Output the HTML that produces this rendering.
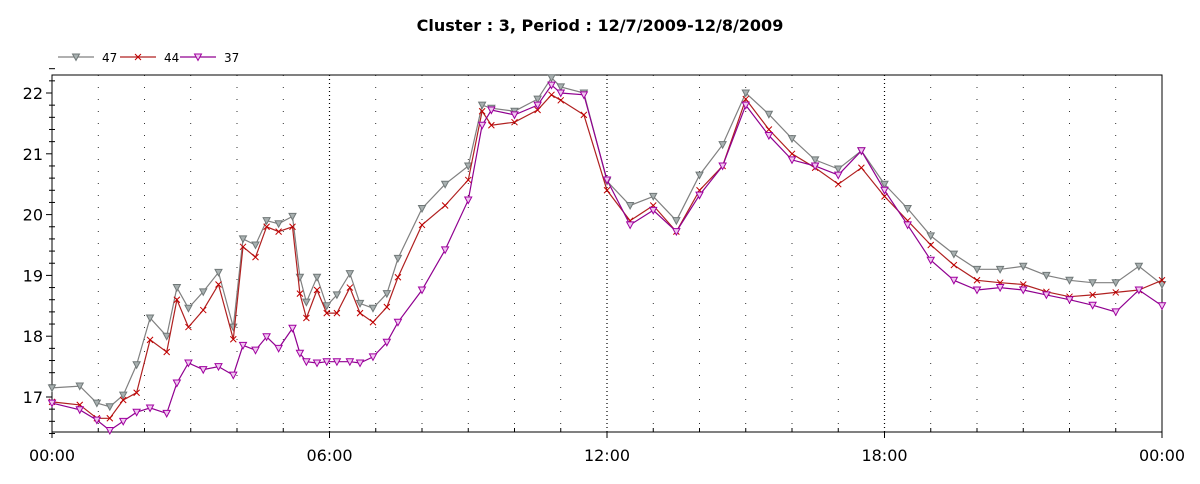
<!DOCTYPE html>
<html><head><meta charset="utf-8"><style>
body{margin:0;background:#fff;font-family:"DejaVu Sans",sans-serif}
svg text{font-family:"DejaVu Sans",sans-serif}
</style></head><body>
<svg id="chart" width="1200" height="480" xmlns="http://www.w3.org/2000/svg">
<text x="600" y="31" text-anchor="middle" font-size="16" font-weight="bold">Cluster : 3, Period : 12/7/2009-12/8/2009</text>
<g id="legend"></g>
<g id="grid"></g><g id="axes"></g><g id="series"></g>
</svg>
<script>
const times=[0,0.6,0.97,1.25,1.54,1.83,2.12,2.48,2.7,2.95,3.27,3.6,3.92,4.13,4.4,4.64,4.9,5.2,5.36,5.5,5.73,5.94,6.16,6.44,6.66,6.94,7.24,7.48,8,8.5,9,9.3,9.5,10,10.5,10.8,11,11.5,12,12.5,13,13.5,14,14.5,15,15.5,16,16.5,17,17.5,18,18.5,19,19.5,20,20.5,21,21.5,22,22.5,23,23.5,24];
const s47=[17.15,17.18,16.9,16.84,17.03,17.53,18.3,18.0,18.8,18.46,18.73,19.05,18.15,19.6,19.5,19.9,19.85,19.97,18.97,18.56,18.97,18.5,18.68,19.03,18.54,18.46,18.7,19.28,20.1,20.5,20.8,21.8,21.75,21.7,21.9,22.25,22.1,22.0,20.55,20.15,20.3,19.9,20.65,21.15,22.0,21.65,21.25,20.9,20.75,21.05,20.5,20.1,19.65,19.35,19.1,19.1,19.15,19.0,18.92,18.88,18.88,19.15,18.85];
const s44=[16.92,16.87,16.65,16.65,16.95,17.07,17.94,17.74,18.6,18.15,18.43,18.85,17.95,19.47,19.3,19.8,19.72,19.8,18.7,18.3,18.76,18.38,18.38,18.8,18.38,18.23,18.48,18.97,19.83,20.15,20.57,21.7,21.47,21.52,21.72,21.97,21.88,21.64,20.4,19.9,20.15,19.72,20.4,20.8,21.9,21.4,21.0,20.77,20.5,20.77,20.3,19.9,19.5,19.17,18.92,18.88,18.85,18.73,18.65,18.68,18.72,18.76,18.92];
const s37=[16.9,16.79,16.62,16.45,16.6,16.75,16.82,16.73,17.23,17.56,17.45,17.5,17.36,17.85,17.77,17.99,17.8,18.13,17.72,17.58,17.56,17.58,17.58,17.58,17.56,17.66,17.9,18.23,18.76,19.42,20.24,21.47,21.72,21.64,21.8,22.13,22.0,21.97,20.57,19.83,20.07,19.72,20.32,20.8,21.8,21.3,20.9,20.8,20.65,21.05,20.4,19.83,19.25,18.92,18.76,18.8,18.76,18.68,18.6,18.51,18.4,18.76,18.5];
const yTicks=[17,18,19,20,21,22];
const xTickLabels=["00:00","06:00","12:00","18:00","00:00"];
const seriesNames=["47","44","37"];

const NS="http://www.w3.org/2000/svg";
const L=52,R=1162,T=75,B=432;
const X=t=>L+(R-L)*t/24;
const Y=v=>93+(22-v)*60.8;
function mk(tag,attrs,parent){const e=document.createElementNS(NS,tag);for(const k in attrs)e.setAttribute(k,attrs[k]);parent.appendChild(e);return e;}
const grid=document.getElementById('grid'),axes=document.getElementById('axes'),ser=document.getElementById('series'),leg=document.getElementById('legend');
for(let h=1;h<24;h++){const g=mk('line',{x1:X(h),x2:X(h),y1:T,y2:B,stroke:'#000','stroke-width':h%6?0.8:1.2,'stroke-dasharray':h%6?'1 11':'1 3'},grid);
}
const fr=mk('rect',{x:L,y:T,width:R-L,height:B-T,fill:'none',stroke:'#000','stroke-width':1},axes);

for(let v=16.4;v<=22.4;v+=0.2){const vv=Math.round(v*10)/10;const maj=Math.abs(vv-Math.round(vv))<0.01;
const tk=mk('line',{x1:L-(maj?6:3),x2:L+(maj?0:3),y1:Y(vv),y2:Y(vv),stroke:'#000'},axes);}
yTicks.forEach(v=>{const t=mk('text',{x:L-9,y:Y(v)+6,'text-anchor':'end','font-size':16},axes);t.textContent=v;
});
for(let h=0;h<=24;h++){const tk=mk('line',{x1:X(h),x2:X(h),y1:B-(h%6?4:0),y2:B+(h%6?0:6),stroke:'#000'},axes);}
xTickLabels.forEach((s,i)=>{const t=mk('text',{x:X(i*6),y:B+29,'text-anchor':'middle','font-size':16},axes);t.textContent=s;
});
const styles=[{line:'#808080',fill:'#a8b0b0',stroke:'#707878',m:'tri'},{line:'#b02020',fill:'none',stroke:'#c00000',m:'x'},{line:'#900090',fill:'#f0c8f0',stroke:'#a000a0',m:'tri'}];
function marker(x,y,st,p){if(st.m==='tri'){return mk('path',{d:`M${x-3.5},${y-3} L${x+3.5},${y-3} L${x},${y+3.5} Z`,fill:st.fill,stroke:st.stroke,'stroke-width':1},p);}
return mk('path',{d:`M${x-3},${y-3} L${x+3},${y+3} M${x-3},${y+3} L${x+3},${y-3}`,stroke:st.stroke,'stroke-width':1,fill:'none'},p);}
[s47,s44,s37].forEach((arr,si)=>{const st=styles[si];const g=mk('g',{},ser);

const pts=arr.map((v,i)=>X(times[i]).toFixed(1)+','+Y(v).toFixed(1)).join(' ');
const pl=mk('polyline',{points:pts,fill:'none',stroke:st.line,'stroke-width':1.2},g);

arr.forEach((v,i)=>{const m=marker(X(times[i]),Y(v),st,g);});
const lx=[58,120,180][si];const e=mk('g',{},leg);
mk('line',{x1:lx,x2:lx+36,y1:57,y2:57,stroke:st.line,'stroke-width':1.2},e);marker(lx+18,57,st,e);
const t=mk('text',{x:lx+44,y:62,'font-size':12},e);t.textContent=seriesNames[si];});
</script>
</body></html>
